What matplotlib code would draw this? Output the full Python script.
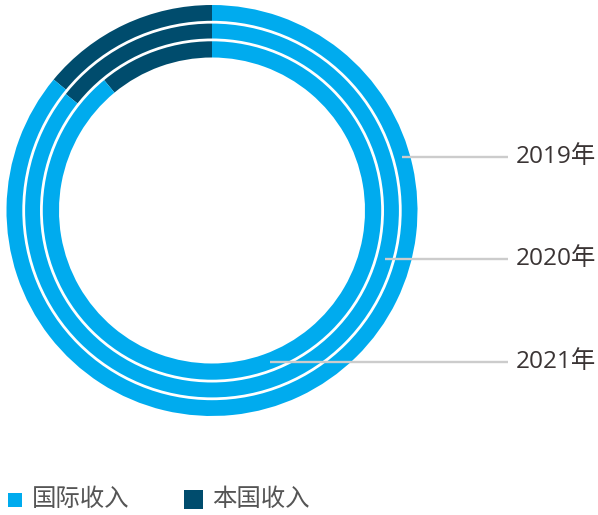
import numpy as np
import matplotlib
matplotlib.use("Agg")
import matplotlib.pyplot as plt
from matplotlib.patches import Circle, Rectangle

# Revenue split per year (percent of total)
years = ["2019年", "2020年", "2021年"]
domestic = [14.0, 14.3, 11.0]          # 本国收入
international = [100 - d for d in domestic]  # 国际收入
legend_labels = ["国际收入", "本国收入"]

BLUE = "#00ABEE"
DARK = "#004C6D"
W, H = 598, 515

fig = plt.figure(figsize=(W / 100, H / 100), dpi=100)
ax = fig.add_axes([0, 0, 1, 1])

cx, cy = 212, H - 210.5
# ring boundaries, outer ring first (2019 -> 2021 going inwards)
edges = [205.5, 188.3, 170.6, 153.0]

for i in range(3):
    r_out, r_in = edges[i], edges[i + 1]
    ax.pie([domestic[i], international[i]], radius=r_out, center=(cx, cy),
           startangle=90, counterclock=True, colors=[DARK, BLUE],
           wedgeprops=dict(width=r_out - r_in, linewidth=0))

# thin white separators between rings
for r in edges[1:3]:
    ax.add_patch(Circle((cx, cy), r, fill=False, edgecolor="white",
                        linewidth=2.0, zorder=5))

# leader lines with year labels
label_angles = [15.7, -15.7, -69.1]
label_font = ["Open Sans", "Noto Sans CJK SC", "DejaVu Sans"]
for i, (yr, ang) in enumerate(zip(years, label_angles)):
    rm = (edges[i] + edges[i + 1]) / 2
    a = np.deg2rad(ang)
    x0, y0 = cx + rm * np.cos(a), cy + rm * np.sin(a)
    ax.plot([x0, 508], [y0, y0], color="#CCCCCC", linewidth=1.7,
            solid_capstyle="butt", zorder=6)
    ax.text(515.5, y0, yr, ha="left", va="center", fontsize=17.6,
            color="#3A3434", family=label_font)

# legend
legend_items = [(legend_labels[0], BLUE, 8.3, 14), (legend_labels[1], DARK, 184, 19)]
for text, col, x, s in legend_items:
    yc = H - 499.5
    ax.add_patch(Rectangle((x, yc - s / 2), s, s, facecolor=col,
                           edgecolor="none"))
    ax.text(x + s + 9.5, yc, text, ha="left", va="center", fontsize=17.6,
            color="#555555", family=label_font)

ax.set_xlim(0, W)
ax.set_ylim(0, H)
ax.set_aspect("equal")
ax.axis("off")

fig.savefig("out.png", dpi=100)
